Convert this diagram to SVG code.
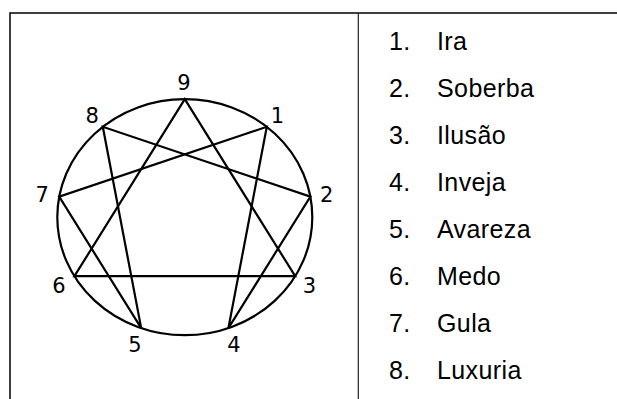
<svg xmlns="http://www.w3.org/2000/svg" width="617" height="399" viewBox="0 0 617 399">
<style>
.border{stroke:#000;stroke-width:1.5;fill:none}
.div{stroke:#222;stroke-width:1.2;fill:none}
.shape{stroke:#000;stroke-width:2.2;fill:none;stroke-linejoin:miter}
.lbl{font-family:"DejaVu Sans",sans-serif;font-size:21px;fill:#000;text-anchor:middle}
.item{font-family:"Liberation Sans",Arial,sans-serif;font-size:25px;letter-spacing:0.4px;fill:#000}
</style>
<rect width="617" height="399" fill="#fff"/>
<g id="table">
<path class="border" d="M10,399 V13 H617"/>
<path class="div" d="M358.3,13 V399"/>
</g>
<g id="enneagram">
<ellipse class="shape" cx="184.8" cy="217.2" rx="127.5" ry="118"/>
</g>
<g id="connectors">
<polygon class="shape" points="184.8,99.2 295.2,276.2 74.4,276.2"/>
<polygon class="shape" points="266.8,126.8 228.4,328.1 310.4,196.7 102.8,126.8 141.2,328.1 59.2,196.7"/>
</g>
<g id="point-9"><text class="lbl" x="184" y="90">9</text></g>
<g id="point-1"><text class="lbl" x="277.5" y="122.5">1</text></g>
<g id="point-2"><text class="lbl" x="326.7" y="202">2</text></g>
<g id="point-3"><text class="lbl" x="309.5" y="292.5">3</text></g>
<g id="point-4"><text class="lbl" x="234" y="351.5">4</text></g>
<g id="point-5"><text class="lbl" x="135" y="351.5">5</text></g>
<g id="point-6"><text class="lbl" x="59" y="292.5">6</text></g>
<g id="point-7"><text class="lbl" x="42.3" y="202">7</text></g>
<g id="point-8"><text class="lbl" x="92.3" y="122.5">8</text></g>
<g id="list">
<text class="item" x="389" y="49.5">1.</text><text class="item" x="437" y="49.5">Ira</text>
<text class="item" x="389" y="96.5">2.</text><text class="item" x="437" y="96.5">Soberba</text>
<text class="item" x="389" y="143.5">3.</text><text class="item" x="437" y="143.5">Ilusão</text>
<text class="item" x="389" y="190.5">4.</text><text class="item" x="437" y="190.5">Inveja</text>
<text class="item" x="389" y="237.5">5.</text><text class="item" x="437" y="237.5">Avareza</text>
<text class="item" x="389" y="284.5">6.</text><text class="item" x="437" y="284.5">Medo</text>
<text class="item" x="389" y="331.5">7.</text><text class="item" x="437" y="331.5">Gula</text>
<text class="item" x="389" y="378.5">8.</text><text class="item" x="437" y="378.5">Luxuria</text>
</g>
</svg>
